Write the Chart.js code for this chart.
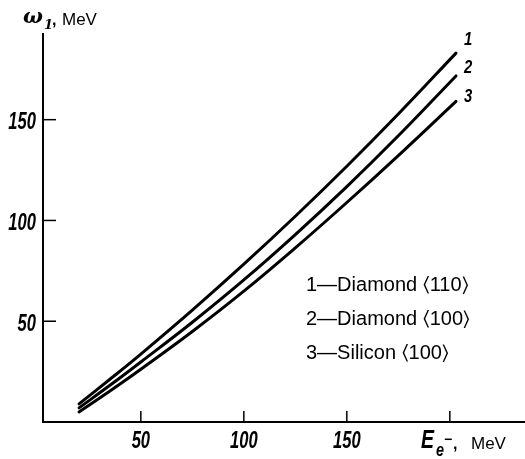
<!DOCTYPE html>
<html>
<head>
<meta charset="utf-8">
<script src="https://cdn.jsdelivr.net/npm/chart.js@4"></script>
<style>
  body { margin: 0; background: #fff; }
  canvas { display: block; }
</style>
</head>
<body>
<canvas id="chart" width="525" height="459"></canvas>
<script>
// electron energy, MeV
const energy = [20, 35, 50, 75, 100, 125, 150, 175, 203];
// photon energy ω1, MeV
const diamond110 = [9, 21.2, 33.7, 55.5, 78.3, 102.1, 126.9, 152.8, 183];
const diamond100 = [7, 18.2, 29.8, 49.5, 70.5, 93, 116.8, 142, 171.7];
const silicon100 = [5, 15.4, 26.2, 44.9, 64.9, 86.4, 108.9, 132.2, 159.1];

const seriesLabels = ['1\u2014Diamond \u2329110\u232A', '2\u2014Diamond \u2329100\u232A', '3\u2014Silicon \u2329100\u232A'];
const curveNumbers = ['1', '2', '3'];
const xTicks = [50, 100, 150, 200];
const xTickLabels = ['50', '100', '150', ''];
const yTicks = [50, 100, 150];
const yTickLabels = ['50', '100', '150'];

const tickFont = 'italic bold 23px "Liberation Sans", Arial, sans-serif';

// the book uses a narrow italic face; squeeze the text horizontally
function narrowText(ctx, text, x, y, sx) {
  ctx.save();
  ctx.translate(x, y);
  ctx.scale(sx, 1);
  ctx.fillText(text, 0, 0);
  ctx.restore();
}

const makeSet = (label, values) => ({
  label: label,
  data: energy.map((e, i) => ({ x: e, y: values[i] })),
  borderColor: '#000',
  borderWidth: 3,
  borderCapStyle: 'round',
  pointRadius: 0,
  fill: false,
  tension: 0.4,
});

// axes, ticks and texts drawn by hand so ticks point inward like the original
const axesPlugin = {
  id: 'paperAxes',
  afterDraw(chart) {
    const ctx = chart.ctx;
    const x = chart.scales.x;
    const y = chart.scales.y;
    const area = chart.chartArea;
    ctx.save();
    ctx.strokeStyle = '#000';
    ctx.fillStyle = '#000';

    // axis lines
    ctx.lineWidth = 2;
    ctx.beginPath();
    ctx.moveTo(area.left, area.top);
    ctx.lineTo(area.left, area.bottom);
    ctx.lineTo(area.right, area.bottom);
    ctx.stroke();

    // ticks
    ctx.lineWidth = 1.5;
    xTicks.forEach(v => {
      const px = x.getPixelForValue(v);
      ctx.beginPath();
      ctx.moveTo(px, area.bottom);
      ctx.lineTo(px, area.bottom - 11);
      ctx.stroke();
    });
    yTicks.forEach(v => {
      const py = y.getPixelForValue(v);
      ctx.beginPath();
      ctx.moveTo(area.left, py);
      ctx.lineTo(area.left + 13, py);
      ctx.stroke();
    });

    // tick labels
    ctx.font = tickFont;
    ctx.textBaseline = 'middle';
    ctx.textAlign = 'center';
    xTicks.forEach((v, i) => {
      narrowText(ctx, xTickLabels[i], x.getPixelForValue(v), area.bottom + 20, 0.72);
    });
    ctx.textAlign = 'right';
    yTicks.forEach((v, i) => {
      narrowText(ctx, yTickLabels[i], area.left - 7, y.getPixelForValue(v) + 3, 0.72);
    });

    // y title
    ctx.textAlign = 'left';
    ctx.textBaseline = 'alphabetic';
    ctx.font = 'bold italic 21px "DejaVu Serif", serif';
    ctx.fillText('\u03C9', 23, 23);
    ctx.font = 'bold italic 13px "DejaVu Serif", serif';
    ctx.fillText('1', 44, 29);
    ctx.font = 'bold 16px "Liberation Sans", sans-serif';
    ctx.fillText(',', 52, 25);
    ctx.font = '17px "Liberation Sans", Arial, sans-serif';
    ctx.fillText('MeV', 62, 25);

    // x title
    ctx.font = 'italic bold 26px "Liberation Sans", Arial, sans-serif';
    narrowText(ctx, 'E', 421, 448, 0.75);
    ctx.font = 'italic bold 18px "Liberation Sans", Arial, sans-serif';
    narrowText(ctx, 'e', 436, 456, 0.8);
    ctx.font = 'bold 14px "Liberation Sans", sans-serif';
    ctx.fillText('\u2212', 444, 444);
    ctx.font = 'bold 16px "Liberation Sans", sans-serif';
    ctx.fillText(',', 453, 449);
    ctx.font = '17px "Liberation Sans", Arial, sans-serif';
    ctx.fillText('MeV', 471, 449);

    // curve numbers at the ends of the curves
    ctx.font = 'italic bold 19px "Liberation Sans", Arial, sans-serif';
    ctx.textAlign = 'left';
    ctx.textBaseline = 'middle';
    const offsets = [-13, -8, -5];
    chart.data.datasets.forEach((ds, i) => {
      const last = ds.data[ds.data.length - 1];
      narrowText(ctx, curveNumbers[i], x.getPixelForValue(last.x) + 8, y.getPixelForValue(last.y) + offsets[i], 0.78);
    });

    // key
    ctx.font = '20px "Liberation Sans", Arial, sans-serif';
    seriesLabels.forEach((t, i) => {
      ctx.fillText(t, 306, 285 + i * 34);
    });
    ctx.restore();
  }
};

new Chart(document.getElementById('chart'), {
  type: 'line',
  data: {
    datasets: [
      makeSet(seriesLabels[0], diamond110),
      makeSet(seriesLabels[1], diamond100),
      makeSet(seriesLabels[2], silicon100),
    ],
  },
  options: {
    responsive: false,
    animation: false,
    layout: { padding: { left: 43, right: 0, top: 33, bottom: 37 } },
    plugins: {
      legend: { display: false },
      tooltip: { enabled: false },
    },
    scales: {
      x: { type: 'linear', min: 2.5, max: 236.5, display: false },
      y: { type: 'linear', min: 0, max: 193, display: false },
    },
  },
  plugins: [axesPlugin],
});
</script>
</body>
</html>
